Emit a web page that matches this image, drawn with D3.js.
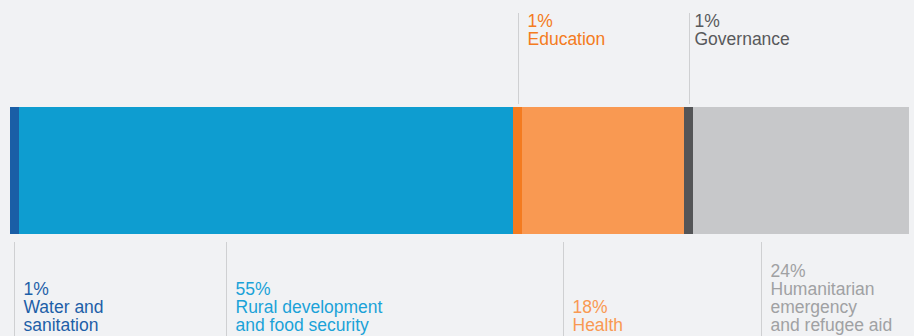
<!DOCTYPE html>
<html>
<head>
<meta charset="utf-8">
<script src="https://cdn.jsdelivr.net/npm/d3@7"></script>
<style>
  html, body { margin: 0; padding: 0; background: #f1f2f4; }
  svg { display: block; }
  text { font-family: "Liberation Sans", Arial, Helvetica, sans-serif; font-size: 17.5px; }
</style>
</head>
<body>
<svg id="chart" width="914" height="336"></svg>
<script>
// Sector shares (percent of total)
const sectors = [
  ["Water and", "sanitation"],
  ["Rural development", "and food security"],
  ["Education"],
  ["Health"],
  ["Governance"],
  ["Humanitarian", "emergency", "and refugee aid"]
];
const shares = [1, 55, 1, 18, 1, 24];
const barColors = ["#1a5ea6", "#0e9dd0", "#f47b20", "#f99952", "#545557", "#c7c8ca"];
const textColors = ["#1d5fa8", "#1ba2d8", "#f47b20", "#f99952", "#58595b", "#a0a1a3"];
const labelAbove = [false, false, true, false, true, false];

const W = 914, H = 336;
const svg = d3.select("#chart");

const x = d3.scaleLinear().domain([0, d3.sum(shares)]).range([10, 909]);
const barTop = 107, barBottom = 234;

const starts = d3.cumsum([0, ...shares]).slice(0, shares.length);
const segs = shares.map((v, i) => ({
  i, v, x0: x(starts[i]), x1: x(starts[i] + v), lines: sectors[i]
}));

// Stacked bar
svg.append("g").selectAll("rect").data(segs).join("rect")
  .attr("x", d => d.x0)
  .attr("y", barTop)
  .attr("width", d => d.x1 - d.x0)
  .attr("height", barBottom - barTop)
  .attr("fill", d => barColors[d.i])
  .attr("shape-rendering", "crispEdges");

// Leader lines and labels
const lineH = 18;
const labels = svg.append("g");
segs.forEach(d => {
  const center = (d.x0 + d.x1) / 2;
  const above = labelAbove[d.i];
  let lx = above ? center : center - 40;
  if (lx < d.x0) lx = center;
  lx = Math.round(lx) + 0.5;

  labels.append("line")
    .attr("x1", lx).attr("x2", lx)
    .attr("y1", above ? 13 : 242)
    .attr("y2", above ? 104 : H)
    .attr("stroke", "#cfd0d2")
    .attr("stroke-width", 1);

  const all = [d.v + "%", ...d.lines];
  const dx = d.i === 4 ? 5 : 9;
  const firstBaseline = above ? 26.7 : 331 - (all.length - 1) * lineH;
  const t = labels.append("text")
    .attr("x", lx + dx)
    .attr("fill", textColors[d.i]);
  all.forEach((s, k) => {
    t.append("tspan")
      .attr("x", lx + dx)
      .attr("y", firstBaseline + k * lineH)
      .text(s);
  });
});
</script>
</body>
</html>
